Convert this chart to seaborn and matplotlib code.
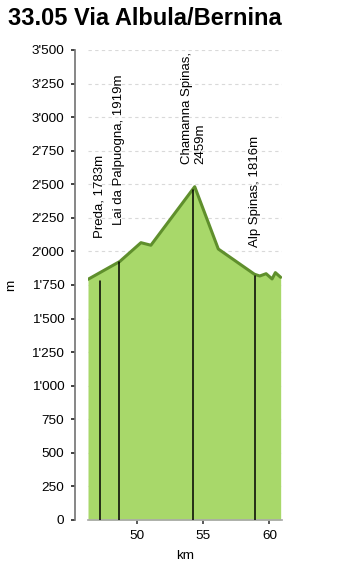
import matplotlib
matplotlib.use("Agg")
import matplotlib.pyplot as plt
import matplotlib.ticker as mticker
import seaborn as sns
import pandas as pd

# Höhenprofil (km, m)
km = [46.3, 48.7, 50.3, 51.05, 54.36, 56.14, 58.87, 59.27, 59.75, 60.2, 60.45, 60.85]
elev = [1792, 1925, 2065, 2046, 2482, 2018, 1830, 1817, 1834, 1795, 1842, 1807]

# Orte
place_km = [47.2, 48.67, 54.26, 58.9]
place_elev = [1783, 1919, 2459, 1816]
place_labels = ["Preda, 1783m", "Lai da Palpuogna, 1919m", "Chamanna Spinas,\n2459m", "Alp Spinas, 1816m"]
label_lift = [317, 278, 192, 217]

df = pd.DataFrame({"km": km, "m": elev})

sns.set_theme(style="ticks")
plt.rcParams["font.family"] = ["Liberation Sans", "DejaVu Sans"]
plt.rcParams["text.color"] = "black"
plt.rcParams["axes.labelcolor"] = "black"
plt.rcParams["xtick.color"] = "black"
plt.rcParams["ytick.color"] = "black"

fig = plt.figure(figsize=(3.51, 5.66), dpi=100)
ax = fig.add_axes([0.2507, 0.0813, 0.5527, 0.8304])

ax.fill_between(df["km"], df["m"], 0, color="#a8d86a", zorder=2, linewidth=0)
sns.lineplot(data=df, x="km", y="m", ax=ax, color="#5f8f2c", linewidth=2.2, zorder=3)

for x, y, lab, dy in zip(place_km, place_elev, place_labels, label_lift):
    ax.plot([x, x], [0, y], color="black", linewidth=1.1, zorder=4)
    ax.text(x, y + dy, lab, rotation=90, ha="center", va="bottom",
            multialignment="left", fontsize=9.5, color="black")

ax.set_xlim(46.3, 60.95)
ax.set_ylim(0, 3500)
ax.set_xticks([50, 55, 60])
ax.yaxis.set_major_locator(mticker.MultipleLocator(250))
ax.yaxis.set_major_formatter(mticker.FuncFormatter(lambda v, p: f"{int(v):,}".replace(",", "'")))
ax.grid(axis="y", linestyle=(0, (3, 3)), color="#d9d9d9", linewidth=0.8, zorder=1)

for s in ["top", "right"]:
    ax.spines[s].set_visible(False)
ax.spines["left"].set_position(("outward", 9))
ax.spines["left"].set_color("#777777")
ax.spines["bottom"].set_color("#aaaaaa")
ax.tick_params(axis="y", length=3, width=1.2, color="#222222", labelsize=9.7, pad=5)
ax.tick_params(axis="x", length=3, color="#444444", labelsize=9.7, pad=4)

ax.set_xlabel("km", fontsize=9.7, labelpad=6)
ax.set_ylabel("m", fontsize=9.7)
ax.yaxis.set_label_coords(-0.365, 0.5)

fig.text(0.023, 0.956, "33.05 Via Albula/Bernina", fontsize=17, fontweight="bold", ha="left", va="baseline")

fig.savefig("out.png", dpi=100)
